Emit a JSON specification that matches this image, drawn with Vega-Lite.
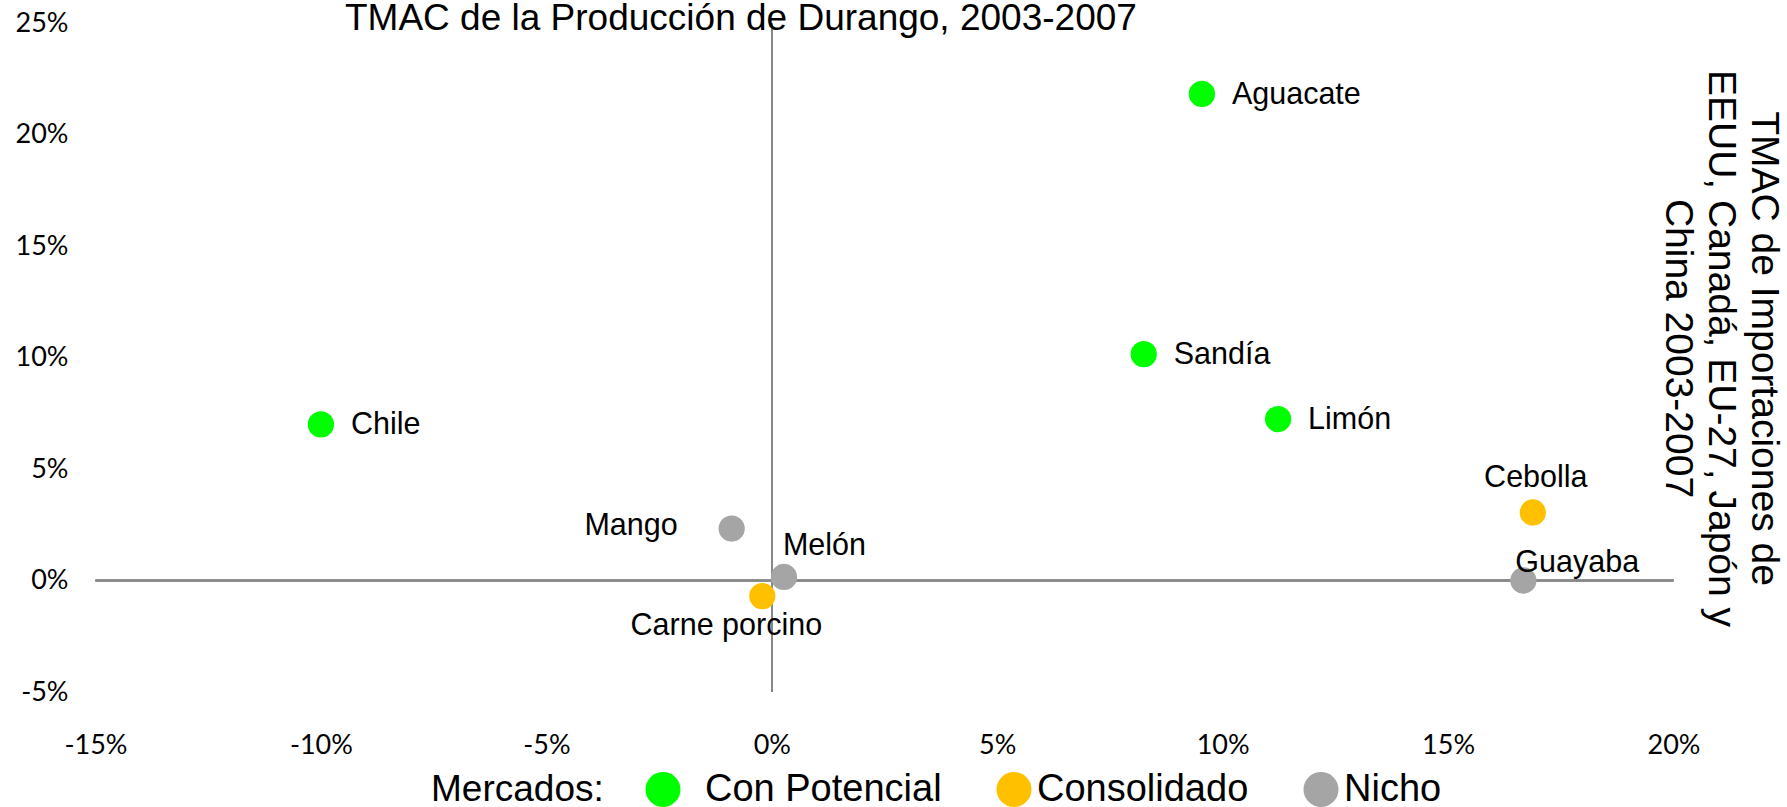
{
  "$schema": "https://vega.github.io/schema/vega-lite/v6.json",
  "width": 1578,
  "height": 669,
  "autosize": {"type": "none"},
  "padding": {"left": 95.5, "top": 23, "right": 113.5, "bottom": 115},
  "background": "white",
  "config": {"view": {"stroke": null}, "font": "Liberation Sans"},
  "title": {
    "text": "TMAC de la Producción de Durango, 2003-2007",
    "orient": "top",
    "frame": "group",
    "anchor": "start",
    "dx": 249.5,
    "fontSize": 37,
    "fontWeight": "normal",
    "font": "Liberation Sans",
    "color": "black",
    "baseline": "alphabetic",
    "offset": -58
  },
  "data": {
    "values": [
      {"name": "Aguacate", "x": 9.54, "y": 21.82, "mercado": "Con Potencial"},
      {"name": "Sandía", "x": 8.25, "y": 10.15, "mercado": "Con Potencial"},
      {"name": "Limón", "x": 11.23, "y": 7.24, "mercado": "Con Potencial"},
      {"name": "Chile", "x": -10.0, "y": 7.0, "mercado": "Con Potencial"},
      {"name": "Cebolla", "x": 16.88, "y": 3.05, "mercado": "Consolidado"},
      {"name": "Carne porcino", "x": -0.21, "y": -0.7, "mercado": "Consolidado"},
      {"name": "Guayaba", "x": 16.67, "y": 0.0, "mercado": "Nicho"},
      {"name": "Mango", "x": -0.89, "y": 2.33, "mercado": "Nicho"},
      {"name": "Melón", "x": 0.27, "y": 0.16, "mercado": "Nicho"}
    ]
  },
  "encoding": {
    "x": {
      "field": "x",
      "type": "quantitative",
      "scale": {"domain": [-15, 20], "nice": false, "zero": false},
      "axis": {
        "orient": "bottom",
        "values": [-15, -10, -5, 0, 5, 10, 15, 20],
        "labelExpr": "datum.value + '%'",
        "domain": false,
        "ticks": false,
        "tickSize": 0,
        "grid": false,
        "title": null,
        "labelFont": "Lato",
        "labelFontSize": 27,
        "labelColor": "black",
        "labelPadding": 53,
        "labelBaseline": "middle",
        "labelFlush": false,
        "labelOverlap": false
      }
    },
    "y": {
      "field": "y",
      "type": "quantitative",
      "scale": {"domain": [-5, 25], "nice": false, "zero": false},
      "axis": {
        "orient": "left",
        "values": [-5, 0, 5, 10, 15, 20, 25],
        "labelExpr": "datum.value + '%'",
        "domain": false,
        "ticks": false,
        "tickSize": 0,
        "grid": false,
        "labelFont": "Lato",
        "labelFontSize": 27,
        "labelColor": "black",
        "labelPadding": 27.5,
        "labelAlign": "right",
        "labelBaseline": "middle",
        "labelFlush": false,
        "labelOverlap": false,
        "title": ["TMAC de Importaciones de", "EEUU, Canadá, EU-27, Japón y", "China 2003-2007"],
        "titleFont": "Liberation Sans",
        "titleFontSize": 39,
        "titleFontWeight": "normal",
        "titleColor": "black",
        "titleAngle": 90,
        "titleAlign": "center",
        "titleBaseline": "bottom",
        "titleX": 1648,
        "titleY": 325,
        "titleLineHeight": 43
      }
    }
  },
  "layer": [
    {
      "mark": {"type": "rule", "color": "#888888", "strokeWidth": 1.5},
      "encoding": {"x": {"datum": 0, "type": "quantitative"}, "y": null}
    },
    {
      "mark": {"type": "rule", "color": "#888888", "strokeWidth": 1.5},
      "encoding": {"y": {"datum": 0, "type": "quantitative"}, "x": null}
    },
    {
      "mark": {"type": "circle", "size": 690, "opacity": 1},
      "encoding": {
        "color": {
          "field": "mercado",
          "type": "nominal",
          "scale": {
            "domain": ["Con Potencial", "Consolidado", "Nicho"],
            "range": ["#00FF00", "#FFC000", "#A5A5A5"]
          },
          "legend": {
            "title": "Mercados:",
            "orient": "none",
            "legendX": 335.5,
            "legendY": 747.5,
            "direction": "horizontal",
            "titleOrient": "left",
            "titleFont": "Liberation Sans",
            "titleFontSize": 37,
            "titleFontWeight": "normal",
            "titleColor": "black",
            "titlePadding": 40,
            "titleBaseline": "middle",
            "titleAnchor": "middle",
            "labelFont": "Liberation Sans",
            "labelFontSize": 38,
            "labelColor": "black",
            "labelOffset": 4,
            "labelLimit": 0,
            "columnPadding": 53,
            "symbolSize": 1225,
            "symbolType": "circle",
            "symbolStrokeWidth": 0,
            "symbolOpacity": 1,
            "padding": 0,
            "labelExpr": "datum.label == 'Con Potencial' ? '\u200b\u2002Con Potencial' : datum.label"
          }
        }
      }
    },
    {
      "transform": [{"filter": "indexof(['Aguacate','Sandía','Limón','Chile'], datum.name) >= 0"}],
      "mark": {"type": "text", "font": "Liberation Sans", "fontSize": 30.5, "color": "black", "align": "left", "baseline": "middle", "dx": 30, "dy": 1},
      "encoding": {"text": {"field": "name"}}
    },
    {
      "transform": [{"filter": "datum.name == 'Cebolla'"}],
      "mark": {"type": "text", "font": "Liberation Sans", "fontSize": 30.5, "color": "black", "align": "center", "baseline": "alphabetic", "dx": 3, "dy": -25.6},
      "encoding": {"text": {"field": "name"}}
    },
    {
      "transform": [{"filter": "datum.name == 'Guayaba'"}],
      "mark": {"type": "text", "font": "Liberation Sans", "fontSize": 30.5, "color": "black", "align": "left", "baseline": "alphabetic", "dx": -8, "dy": -9},
      "encoding": {"text": {"field": "name"}}
    },
    {
      "transform": [{"filter": "datum.name == 'Mango'"}],
      "mark": {"type": "text", "font": "Liberation Sans", "fontSize": 30.5, "color": "black", "align": "right", "baseline": "alphabetic", "dx": -54, "dy": 6.7},
      "encoding": {"text": {"field": "name"}}
    },
    {
      "transform": [{"filter": "datum.name == 'Melón'"}],
      "mark": {"type": "text", "font": "Liberation Sans", "fontSize": 30.5, "color": "black", "align": "left", "baseline": "alphabetic", "dx": -1, "dy": -21.7},
      "encoding": {"text": {"field": "name"}}
    },
    {
      "transform": [{"filter": "datum.name == 'Carne porcino'"}],
      "mark": {"type": "text", "font": "Liberation Sans", "fontSize": 30.5, "color": "black", "align": "center", "baseline": "alphabetic", "dx": -36, "dy": 39},
      "encoding": {"text": {"field": "name"}}
    }
  ]
}
